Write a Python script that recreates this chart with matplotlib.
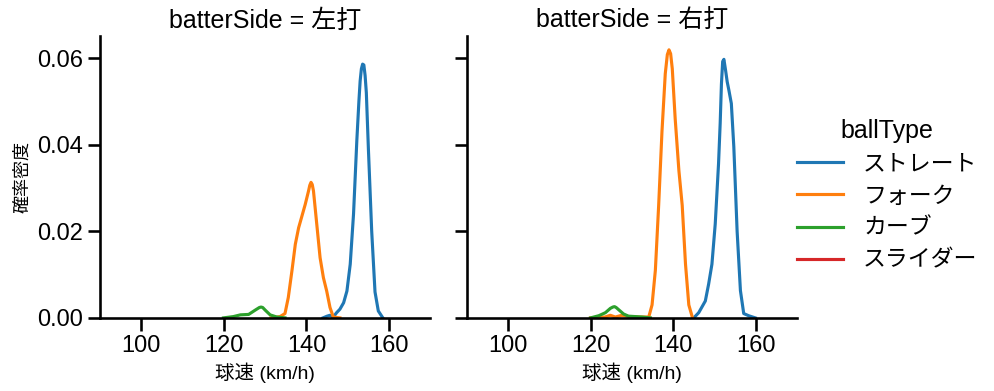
import matplotlib
matplotlib.use("Agg")
import matplotlib.pyplot as plt
from matplotlib.lines import Line2D

plt.rcParams['font.family'] = ['Liberation Sans', 'Noto Sans CJK JP', 'DejaVu Sans']

# KDE curves (speed km/h, density)
sides = ['左打', '右打']
ball_types = ['ストレート', 'フォーク', 'カーブ', 'スライダー']
colors = ['#1f77b4', '#ff7f0e', '#2ca02c', '#d62728']

left_straight_x = [144.0, 145.0, 145.7, 146.5, 147.3, 148.1, 149.0, 149.8, 150.6, 151.4, 152.2, 152.7, 153.0, 153.3, 153.6, 153.9, 154.2, 154.5, 155.0, 155.8, 156.6, 157.4, 158.5]
left_straight_y = [0.0, 0.0004, 0.0006, 0.0002, 0.0012, 0.0020, 0.0035, 0.0062, 0.0124, 0.0240, 0.0410, 0.0500, 0.0547, 0.0575, 0.0586, 0.0584, 0.0560, 0.0520, 0.0390, 0.0200, 0.0060, 0.0016, 0.0]
left_fork_x = [131.4, 133.6, 134.8, 135.6, 136.5, 137.3, 138.1, 138.9, 139.7, 140.5, 140.8, 141.1, 141.4, 141.7, 142.5, 143.3, 144.1, 144.9, 145.7, 146.5, 148.1]
left_fork_y = [0.0, 0.0003, 0.0010, 0.0047, 0.0110, 0.0170, 0.0208, 0.0235, 0.0262, 0.0293, 0.0306, 0.0313, 0.0308, 0.0293, 0.0216, 0.0139, 0.0093, 0.0062, 0.0024, 0.0002, 0.0]
left_curve_x = [119.9, 122.3, 124.0, 126.0, 127.6, 128.6, 129.0, 129.4, 130.0, 131.2, 132.8, 134.8]
left_curve_y = [0.0, 0.0003, 0.0007, 0.0008, 0.0018, 0.0024, 0.0025, 0.0024, 0.0018, 0.0007, 0.0002, 0.0]

right_straight_x = [145.0, 146.2, 147.8, 148.6, 149.4, 150.2, 151.0, 151.4, 151.7, 152.0, 152.3, 152.7, 153.1, 153.5, 154.1, 154.7, 155.5, 156.3, 157.1, 158.3, 159.9]
right_straight_y = [0.0, 0.0012, 0.0039, 0.0078, 0.0124, 0.0217, 0.0356, 0.0450, 0.0540, 0.0592, 0.0597, 0.0572, 0.0545, 0.0526, 0.0495, 0.0395, 0.0200, 0.0063, 0.0010, 0.0005, 0.0]
right_fork_x = [120.0, 123.5, 124.8, 126.0, 127.6, 129.2, 132.0, 134.1, 134.9, 135.7, 136.5, 137.3, 138.1, 138.6, 139.0, 139.4, 139.8, 140.5, 141.4, 142.2, 143.0, 143.8, 144.7]
right_fork_y = [0.0, 0.0002, 0.0006, 0.0002, 0.0006, 0.0003, 0.0002, 0.0002, 0.0030, 0.0110, 0.0260, 0.0430, 0.0564, 0.0608, 0.0619, 0.0610, 0.0575, 0.0460, 0.0340, 0.0260, 0.0124, 0.0030, 0.0]
right_curve_x = [120.0, 122.0, 123.6, 124.8, 125.4, 125.8, 126.2, 126.8, 128.0, 129.2, 132.5, 134.5]
right_curve_y = [0.0, 0.0005, 0.0012, 0.0022, 0.0025, 0.0026, 0.0024, 0.0019, 0.0009, 0.0004, 0.0002, 0.0]

curves = {
    '左打': [(left_straight_x, left_straight_y), (left_fork_x, left_fork_y), (left_curve_x, left_curve_y), ([], [])],
    '右打': [(right_straight_x, right_straight_y), (right_fork_x, right_fork_y), (right_curve_x, right_curve_y), ([], [])],
}

fig = plt.figure(figsize=(9.95, 3.91), dpi=100)
ax1 = fig.add_axes([0.1005, 0.187, 0.332, 0.721])
ax2 = fig.add_axes([0.469, 0.187, 0.332, 0.721], sharey=ax1)

for ax, side in zip([ax1, ax2], sides):
    for (xs, ys), c in zip(curves[side], colors):
        ax.plot(xs, ys, color=c, lw=2.25, solid_joinstyle='round')
    ax.set_xlim(90, 170)
    ax.set_ylim(0, 0.0651)
    ax.set_xticks([100, 120, 140, 160])
    ax.set_yticks([0.0, 0.02, 0.04, 0.06])
    ax.set_title(f'batterSide = {side}', fontsize=18)
    ax.set_xlabel('球速 (km/h)', fontsize=14)
    for s in ['top', 'right']:
        ax.spines[s].set_visible(False)
    for s in ['left', 'bottom']:
        ax.spines[s].set_linewidth(1.875)
    ax.tick_params(labelsize=17, width=1.875, length=9)

ax1.set_ylabel('確率密度', fontsize=13)
ax1.yaxis.set_major_formatter(plt.FormatStrFormatter('%.2f'))
ax2.tick_params(labelleft=False)

handles = [Line2D([], [], color=c, lw=2.25) for c in colors]
fig.legend(handles, ball_types, title='ballType', loc='center left',
           bbox_to_anchor=(0.78, 0.50), frameon=False, fontsize=16.5,
           title_fontsize=18, handlelength=2.0, labelspacing=0.4,
           handletextpad=0.9)

fig.savefig('out.png', dpi=100)
